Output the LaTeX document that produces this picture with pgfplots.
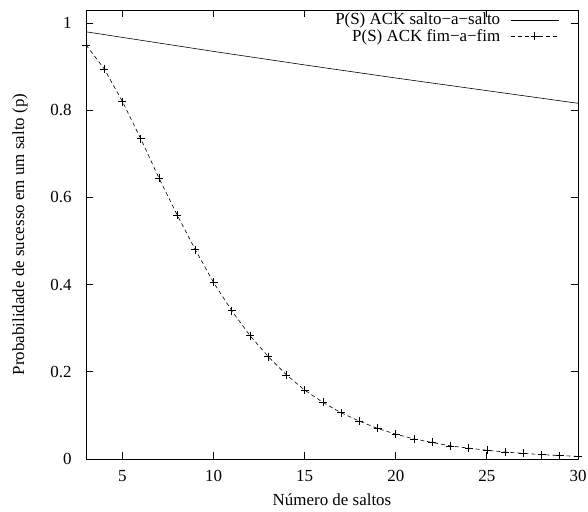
\documentclass[border=0pt]{standalone}
\usepackage{pgfplots}
\pgfplotsset{compat=1.18}
\usepackage{fontspec}
\setmainfont{Liberation Serif}
\begin{document}
\begin{tikzpicture}
\begin{axis}[
   scale only axis,
   width=492bp,
   height=449bp,
   xmin=3, xmax=30,
   ymin=0, ymax=1.03,
   xtick={5,10,15,20,25,30},
   ytick={0,0.2,0.4,0.6,0.8,1},
   yticklabels={0,0.2,0.4,0.6,0.8,1},
   tick align=inside,
   major tick length=7bp,
   tick style={black, line width=0.8pt},
   axis line style={line width=0.8pt},
   font=\fontsize{17}{20}\selectfont,
   /pgf/number format/assume math mode=true,
   xticklabel style={yshift=-8bp},
   yticklabel style={xshift=-11bp},
   xlabel={Número de saltos},
   ylabel={Probabilidade de sucesso em um salto (p)},
   xlabel style={at={(axis description cs:0.5,0)}, anchor=center, yshift=-41bp},
   ylabel style={at={(axis description cs:-0.134,0.5)}, anchor=center},
   legend plot pos=right,
   legend cell align=right,
   legend style={draw=none, fill=none, at={(axis description cs:1,1)},
      anchor=north east, xshift=-18bp, yshift=0bp,
      row sep=-1bp, column sep=8bp, inner sep=1bp,
      font=\fontsize{17}{20}\selectfont},
   legend image code/.code={\draw[mark repeat=2, mark phase=2, #1]
      plot coordinates {(0bp,0bp) (24bp,0bp) (48bp,0bp)};},
 ]
\addplot[black, line width=0.6pt, no markers] coordinates {
  (3,0.980) (10,0.935) (15,0.904) (20,0.874) (25,0.845) (30,0.816)
};
\addlegendentry{P(S) ACK salto\textminus a\textminus salto}
\addplot[black, line width=0.6pt, dash pattern=on 4bp off 3bp, mark=+, mark size=4bp,
   mark options={solid}] coordinates {
  (3,0.950) (4,0.895) (5,0.820) (6,0.735) (7,0.645) (8,0.560) (9,0.480)
  (10,0.405) (11,0.340) (12,0.283) (13,0.235) (14,0.193) (15,0.158)
  (16,0.130) (17,0.106) (18,0.087) (19,0.070) (20,0.057) (21,0.046)
  (22,0.038) (23,0.030) (24,0.025) (25,0.020) (26,0.016) (27,0.013)
  (28,0.010) (29,0.008) (30,0.006)
};
\addlegendentry{P(S) ACK fim\textminus a\textminus fim}
\coordinate (sw) at (rel axis cs:0,0);
\coordinate (ne) at (rel axis cs:1,1);
\end{axis}
\pgfresetboundingbox
\path[use as bounding box] ([xshift=-86bp,yshift=-53bp]sw) rectangle ([xshift=10bp,yshift=10bp]ne);
\end{tikzpicture}
\end{document}
